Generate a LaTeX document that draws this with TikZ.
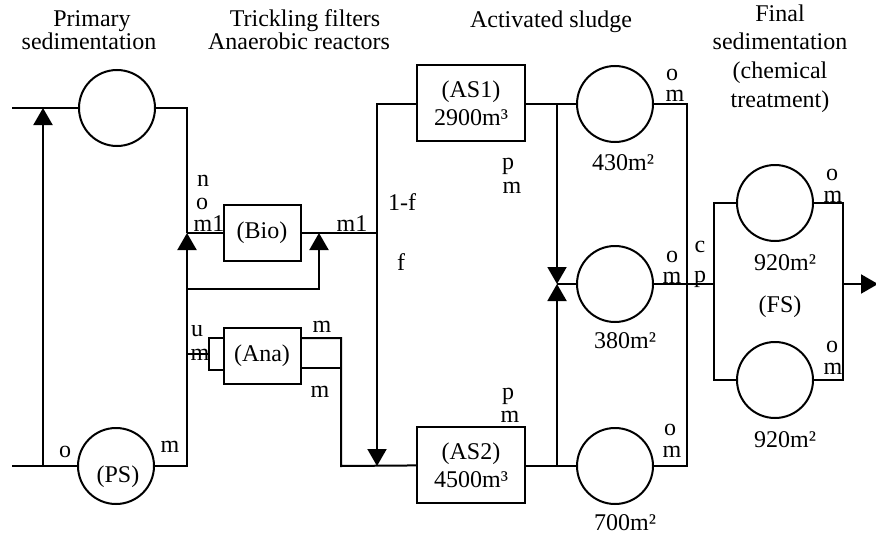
\documentclass[tikz,border=0pt]{standalone}
\usepackage{fontspec}
\setmainfont{Liberation Serif}
\usepackage{tikz}
\usetikzlibrary{arrows.meta, positioning}

\begin{document}
\begin{tikzpicture}[x=0.5pt, y=-0.5pt, line width=1pt,
   every node/.style={font=\fontsize{12}{14}\selectfont, inner sep=0pt},
   tank/.style={draw, circle, minimum size=38pt},
   reactor/.style={draw, minimum width=38.5pt, minimum height=28pt},
   basin/.style={draw, minimum width=54pt, minimum height=38pt, align=center},
   flow/.style={-{Triangle[length=8.5pt, width=9.5pt]}},
   lbl/.style={anchor=base}]
  \useasboundingbox (0,0) rectangle (876,535);

  % headings
  \node[lbl] (tPa) at (92,27) {Primary};
  \node[lbl] (tPb) at (89,50) {sedimentation};
  \node[lbl] (tTa) at (305,27) {Trickling filters};
  \node[lbl] (tTb) at (299,50) {Anaerobic reactors};
  \node[lbl] (tA)  at (551,28) {Activated sludge};
  \node[lbl] (tFa) at (780,22) {Final};
  \node[lbl] (tFb) at (780,50) {sedimentation};
  \node[lbl] (tFc) at (780,78) {(chemical};
  \node[lbl] (tFd) at (780,107) {treatment)};

  % units
  \node[tank] (P1) at (117,108) {};
  \node[tank] (PS) at (116,466) {};
  \node[reactor] (Bio) at (262,233) {(Bio)};
  \node[reactor] (Ana) at (262,356) {(Ana)};
  \node[draw, minimum width=7.5pt, minimum height=16pt] (AnaIn) at (216,354) {};
  \node[basin] (AS1) at (471,103) {(AS1)\\2900m³};
  \node[basin] (AS2) at (471,465) {(AS2)\\4500m³};
  \node[tank] (C1) at (615,104) {};
  \node[tank] (C2) at (615,284) {};
  \node[tank] (C3) at (615,466) {};
  \node[tank] (F1) at (775,203) {};
  \node[tank] (F2) at (775,380) {};

  % junctions
  \coordinate (in1) at (12,108);
  \coordinate (in2) at (12,466);
  \coordinate (b1) at (43,108);
  \coordinate (b2) at (43,466);
  \coordinate (k1) at (187,108);
  \coordinate (k2) at (187,233);
  \coordinate (k3) at (187,289);
  \coordinate (k4) at (187,354);
  \coordinate (k5) at (187,466);
  \coordinate (r1) at (319,233);
  \coordinate (r2) at (319,289);
  \coordinate (v1) at (377,104);
  \coordinate (v2) at (377,233);
  \coordinate (v3) at (377,466);
  \coordinate (a1) at (341,338);
  \coordinate (a2) at (341,368);
  \coordinate (a3) at (341,466);
  \coordinate (s1) at (557,104);
  \coordinate (s2) at (557,284);
  \coordinate (s3) at (557,466);
  \coordinate (t1) at (687,104);
  \coordinate (t3) at (687,466);
  \coordinate (f0) at (714,284);
  \coordinate (f1) at (714,203);
  \coordinate (f2) at (714,380);
  \coordinate (g0) at (843,284);
  \coordinate (g1) at (843,203);
  \coordinate (g2) at (843,380);
  \coordinate (out) at (878,284);

  % flows
  \draw (in1) -- (P1);
  \draw (in2) -- (PS);
  \draw[flow] (b2) -- (b1);
  \draw (P1) -- (k1) -- (k2);
  \draw[flow] (PS) -- (k5) -- (k2);
  \draw (k2) -- (Bio);
  \draw[flow] (k3) -- (r2) -- (r1);
  \draw (Bio) -- (v2);
  \draw (k4) -- (AnaIn);
  \draw (Ana.east |- a1) -- (a1) -- (a3) -- (AS2);
  \draw (Ana.east |- a2) -- (a2);
  \draw[flow] (AS1.west |- v1) -- (v1) -- (v3);
  \draw (AS1.east |- s1) -- (C1);
  \draw[flow] (s1) -- (s2);
  \draw[flow] (s3) -- (s2);
  \draw (s2) -- (C2);
  \draw (AS2.east |- s3) -- (C3);
  \draw (C1) -- (t1) -- (t3) -- (C3);
  \draw (C2) -- (f0);
  \draw (F1) -- (f1) -- (f2) -- (F2);
  \draw (F1) -- (g1) -- (g2) -- (F2);
  \draw[flow] (g0) -- (out);

  % labels
  \node[lbl] (lPS) at (118,482) {(PS)};
  \node[lbl] (lOps) at (65,457) {o};
  \node[lbl] (lMps) at (170,452) {m};
  \node[lbl] (lN) at (203,186) {n};
  \node[lbl] (lO) at (202,209) {o};
  \node[lbl] (lM1) at (209,231) {m1};
  \node[lbl] (lM1b) at (352,231) {m1};
  \node[lbl] (lU) at (197,336) {u};
  \node[lbl] (lMu) at (200,360) {m};
  \node[lbl] (lMa) at (322,332) {m};
  \node[lbl] (lMb) at (320,397) {m};
  \node[lbl] (l1f) at (402,210) {1-f};
  \node[lbl] (lF) at (401,270) {f};
  \node[lbl] (lP1) at (508,169) {p};
  \node[lbl] (lPm1) at (512,193) {m};
  \node[lbl] (lP2) at (508,399) {p};
  \node[lbl] (lPm2) at (510,422) {m};
  \node[lbl] (l430) at (623,170) {430m²};
  \node[lbl] (l380) at (625,348) {380m²};
  \node[lbl] (l700) at (625,530) {700m²};
  \node[lbl] (lO1) at (672,81) {o};
  \node[lbl] (lMo1) at (675,102) {m};
  \node[lbl] (lO2) at (672,262) {o};
  \node[lbl] (lMo2) at (672,283) {m};
  \node[lbl] (lO3) at (670,435) {o};
  \node[lbl] (lMo3) at (672,457) {m};
  \node[lbl] (lC) at (700,252) {c};
  \node[lbl] (lPc) at (700,282) {p};
  \node[lbl] (lO4) at (832,180) {o};
  \node[lbl] (lMo4) at (833,202) {m};
  \node[lbl] (lO5) at (832,352) {o};
  \node[lbl] (lMo5) at (833,374) {m};
  \node[lbl] (l920a) at (785,270) {920m²};
  \node[lbl] (lFS) at (780,312) {(FS)};
  \node[lbl] (l920b) at (785,447) {920m²};
\end{tikzpicture}
\end{document}
